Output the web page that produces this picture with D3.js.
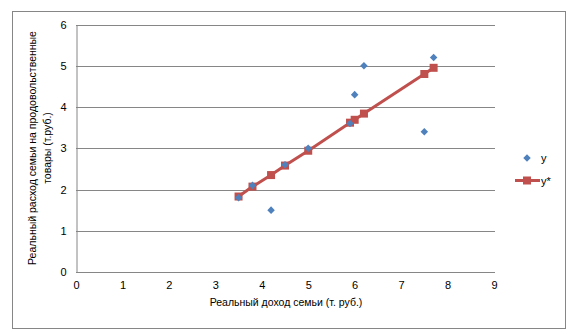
<!DOCTYPE html>
<html>
<head>
<meta charset="utf-8">
<script src="https://cdn.jsdelivr.net/npm/d3@7"></script>
<style>
  html, body { margin: 0; padding: 0; background: #fff; }
  svg { display: block; }
  text { font-family: "Liberation Sans", Arial, sans-serif; fill: #000; }
</style>
</head>
<body>
<svg id="chart" width="579" height="335"></svg>
<script>
// Family income (x) with observed (y) and fitted (y*) food spending
const income   = [3.5, 3.8, 4.2, 4.5, 5.0, 5.9, 6.0, 6.2, 7.5, 7.7];
const observed = [1.8, 2.1, 1.5, 2.6, 3.0, 3.6, 4.3, 5.0, 3.4, 5.2];
const fitted   = [1.83, 2.07, 2.35, 2.58, 2.94, 3.62, 3.69, 3.84, 4.80, 4.95];
const xTicks = [0, 1, 2, 3, 4, 5, 6, 7, 8, 9];
const yTicks = [0, 1, 2, 3, 4, 5, 6];
const seriesNames = ["y", "y*"];
const xTitle = "Реальный доход семьи (т. руб.)";
const yTitleLines = ["Реальный расход семьи на продовольственные", "товары (т.руб.)"];

const blue = "#4F81BD", red = "#C0504D", grid = "#868686";

const svg = d3.select("#chart");

// outer frame
svg.append("rect")
  .attr("x", 12.5).attr("y", 11.5).attr("width", 553).attr("height", 317)
  .attr("fill", "#fff").attr("stroke", grid).attr("stroke-width", 1);

const plot = { left: 76, right: 494, top: 24.5, bottom: 272 };
const x = d3.scaleLinear().domain([0, 9]).range([plot.left, plot.right]);
const y = d3.scaleLinear().domain([0, 6]).range([plot.bottom, plot.top]);

// horizontal gridlines
svg.append("g")
  .selectAll("line").data(yTicks.filter(t => t > 0)).join("line")
  .attr("x1", plot.left).attr("x2", plot.right + 1)
  .attr("y1", d => Math.round(y(d)) + 0.5).attr("y2", d => Math.round(y(d)) + 0.5)
  .attr("stroke", grid).attr("stroke-width", 1);

// axes
const xAxis = svg.append("g")
  .attr("transform", `translate(0,${Math.round(plot.bottom) + 0.5})`)
  .call(d3.axisBottom(x).tickValues(xTicks).tickSize(0).tickPadding(9).tickFormat(d3.format("d")));
const yAxis = svg.append("g")
  .attr("transform", `translate(${plot.left + 0.5},0)`)
  .call(d3.axisLeft(y).tickValues(yTicks).tickSize(0).tickPadding(10).tickFormat(d3.format("d")));
[xAxis, yAxis].forEach(g => {
  g.select(".domain").attr("stroke", grid).attr("stroke-width", 1);
  g.selectAll("text").style("font-family", "Liberation Sans, Arial, sans-serif")
    .style("font-size", "11px").attr("fill", "#000");
});
xAxis.select(".domain").attr("d", `M${plot.left},0H${plot.right + 1}`);

// axis titles
svg.append("text")
  .attr("x", 286).attr("y", 306).attr("text-anchor", "middle")
  .style("font-size", "10.5px").text(xTitle);

const yt = svg.append("text")
  .attr("transform", "translate(36,148) rotate(-90)")
  .attr("text-anchor", "middle").style("font-size", "10.5px");
yTitleLines.forEach((line, i) => {
  yt.append("tspan").attr("x", 0).attr("dy", i === 0 ? 0 : 15).text(line);
});

const pts = income.map((v, i) => ({ x: v, y: observed[i], f: fitted[i] }));

// fitted series: line with square markers
svg.append("path")
  .datum(pts)
  .attr("fill", "none").attr("stroke", red).attr("stroke-width", 3)
  .attr("d", d3.line().x(d => x(d.x)).y(d => y(d.f)));
svg.append("g").selectAll("rect").data(pts).join("rect")
  .attr("x", d => x(d.x) - 4).attr("y", d => y(d.f) - 4)
  .attr("width", 8).attr("height", 8).attr("fill", red);

// observed series: diamond markers
const diamond = d3.symbol().type(d3.symbolDiamond2).size(36);
svg.append("g").selectAll("path").data(pts).join("path")
  .attr("transform", d => `translate(${x(d.x)},${y(d.y)})`)
  .attr("d", diamond).attr("fill", blue);

// legend
const lg = svg.append("g");
lg.append("path").attr("transform", "translate(527,158)").attr("d", diamond).attr("fill", blue);
lg.append("text").attr("x", 541).attr("y", 162).style("font-size", "11px").text(seriesNames[0]);
lg.append("line").attr("x1", 515).attr("x2", 540).attr("y1", 180.5).attr("y2", 180.5)
  .attr("stroke", red).attr("stroke-width", 3);
lg.append("rect").attr("x", 523).attr("y", 176.5).attr("width", 8).attr("height", 8).attr("fill", red);
lg.append("text").attr("x", 541).attr("y", 184.5).style("font-size", "11px").text(seriesNames[1]);
</script>
</body>
</html>
